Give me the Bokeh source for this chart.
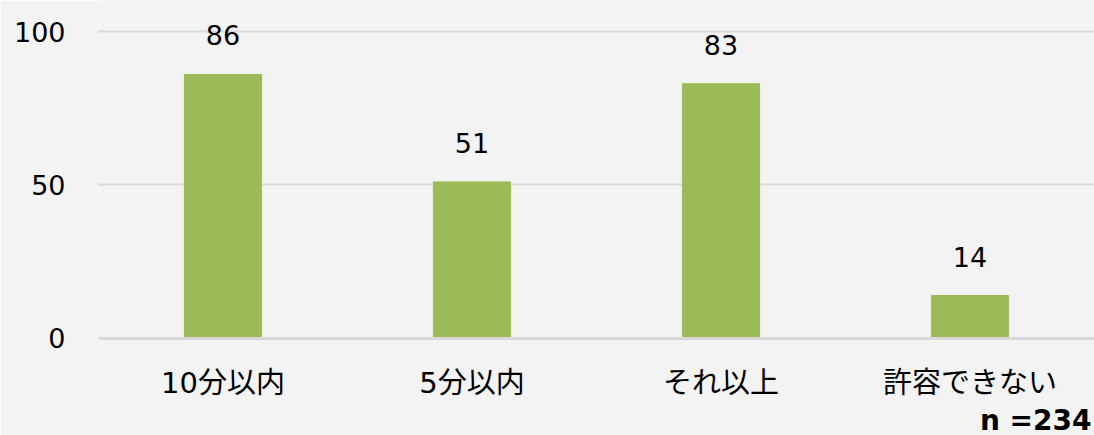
from bokeh.plotting import figure
from bokeh.models import ColumnDataSource, LabelSet, Label, FixedTicker, Range1d, Span
from bokeh.core.properties import value
from bokeh.embed import file_html
from bokeh.resources import INLINE

categories = ["10分以内", "5分以内", "それ以上", "許容できない"]
values = [86, 51, 83, 14]
y_ticks = [0, 50, 100]
note = "n =234"

NUM_FONT = "DejaVu Sans"
CAT_FONT = "'DejaVu Sans', 'Noto Sans CJK JP'"
BG = "#f3f3f3"

src = ColumnDataSource(dict(cat=categories, val=values, lab=[str(v) for v in values]))

p = figure(x_range=categories, y_range=Range1d(-31.6, 110.1), width=1094, height=435,
           output_backend="svg", toolbar_location=None, x_axis_location=None,
           background_fill_color=BG, border_fill_color=BG,
           min_border_left=98, min_border_right=0, min_border_top=0, min_border_bottom=0)
p.outline_line_color = None

p.vbar(x="cat", top="val", width=0.31, source=src, color="#9bbb59")

labels = LabelSet(x="cat", y="val", text="lab", source=src, y_offset=39,
                  text_align="center", text_baseline="middle",
                  text_font=value(NUM_FONT), text_font_size="27px", text_color="#000000")
p.add_layout(labels)

cat_labels = LabelSet(x="cat", y=0, text="cat", source=src, y_offset=-45,
                      text_align="center", text_baseline="middle",
                      text_font=value(CAT_FONT), text_font_size="29px", text_color="#000000")
p.add_layout(cat_labels)

p.xgrid.grid_line_color = None
p.ygrid.grid_line_color = "#d9d9d9"
p.ygrid.grid_line_width = 2
p.yaxis.ticker = FixedTicker(ticks=y_ticks)
p.add_layout(Span(location=0, dimension="width", line_color="#d9d9d9", line_width=3))

ya = p.yaxis[0]
ya.axis_line_color = None
ya.major_tick_line_color = None
ya.minor_tick_line_color = None
ya.major_tick_out = 0
ya.major_tick_in = 0
ya.minor_tick_out = 0
ya.major_label_text_color = "#000000"
ya.major_label_text_font = NUM_FONT
ya.major_label_text_font_size = "27px"
ya.major_label_standoff = 33

n_label = Label(x=993, y=15, x_units="screen", y_units="screen", text=note,
                text_align="right", text_baseline="middle",
                text_font=NUM_FONT, text_font_size="28px", text_font_style="bold",
                text_color="#000000")
p.add_layout(n_label)

open("out.html", "w").write(file_html(p, INLINE))
